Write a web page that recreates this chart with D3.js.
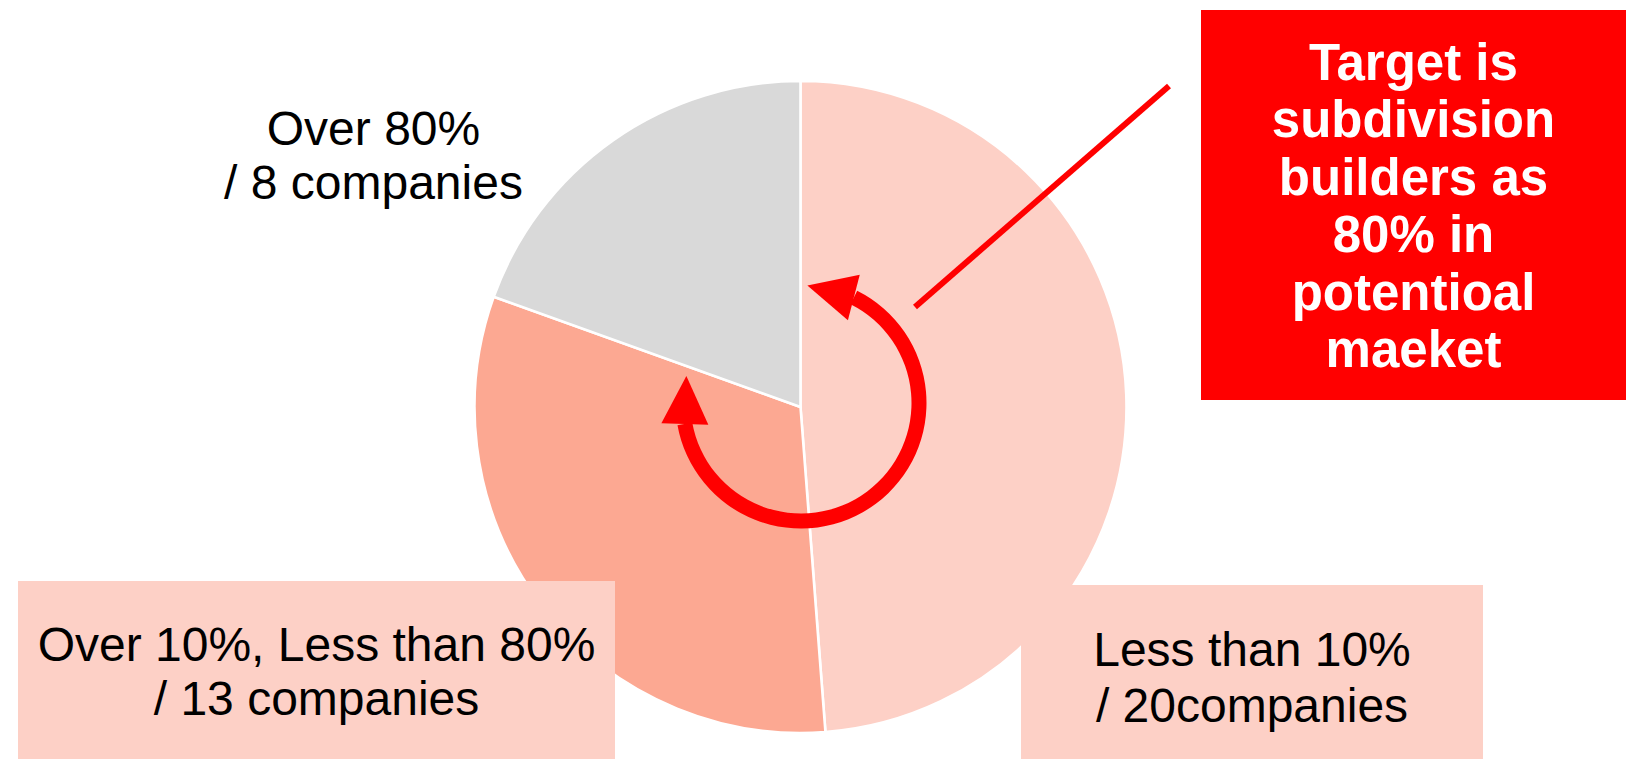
<!DOCTYPE html>
<html lang="en">
<head>
    <meta charset="UTF-8">
    <title>Subdivision builders share</title>
    <script src="https://cdnjs.cloudflare.com/ajax/libs/d3/7.8.5/d3.min.js"></script>
    <style>
        body { margin: 0; background: #fff; }
        svg { display: block; }
        .label { font-family: "Liberation Sans", Arial, sans-serif; font-size: 48px; fill: #000; }
        .callout { font-family: "Liberation Sans", Arial, sans-serif; font-size: 51px; font-weight: bold; fill: #fff; }
    </style>
</head>
<body>
    <div id="chart"></div>

    <script>
        // Chart data
        const categories = ["Less than 10%", "Over 10%, Less than 80%", "Over 80%"];
        const companies = [20, 13, 8];
        const labelLines = [
            ["Less than 10%", "/ 20companies"],
            ["Over 10%, Less than 80%", "/ 13 companies"],
            ["Over 80%", "/ 8 companies"]
        ];
        const sliceColors = ["#fdd0c6", "#fca892", "#d9d9d9"];
        const calloutLines = ["Target is", "subdivision", "builders as", "80% in", "potentioal", "maeket"];

        const width = 1626;
        const height = 759;

        // Pie geometry
        const cx = 800.5, cy = 407, radius = 326;

        // Label layout: box (optional), centre x, baselines
        const labelLayout = [
            { box: [1021, 585, 462, 190], x: 1252, y: [666, 722] },
            { box: [18, 581, 597, 190], x: 316.5, y: [661, 715] },
            { box: null, x: 373.5, y: [145, 199] }
        ];

        const svg = d3.select("#chart").append("svg")
            .attr("width", width)
            .attr("height", height);

        const pie = d3.pie().sort(null).value(d => d);
        const arc = d3.arc().innerRadius(0).outerRadius(radius);

        // Slices
        svg.append("g")
            .attr("transform", `translate(${cx},${cy})`)
            .selectAll("path")
            .data(pie(companies))
            .enter().append("path")
            .attr("d", arc)
            .attr("fill", (d, i) => sliceColors[i])
            .attr("stroke", "#fff")
            .attr("stroke-width", 2.6)
            .attr("stroke-linejoin", "round");

        // Label boxes and texts
        const labels = svg.append("g")
            .selectAll("g")
            .data(categories)
            .enter().append("g");

        labels.each(function(d, i) {
            const g = d3.select(this);
            const lay = labelLayout[i];
            if (lay.box) {
                g.append("rect")
                    .attr("x", lay.box[0]).attr("y", lay.box[1])
                    .attr("width", lay.box[2]).attr("height", lay.box[3])
                    .attr("fill", sliceColors[0]);
            }
            labelLines[i].forEach((line, j) => {
                g.append("text")
                    .attr("class", "label")
                    .attr("x", lay.x)
                    .attr("y", lay.y[j])
                    .attr("text-anchor", "middle")
                    .text(line);
            });
        });

        // Circular double arrow
        const ring = { cx: 801, cy: 403, r: 118, width: 15, start: 26.6, end: 259.8 };
        const toRad = a => a * Math.PI / 180;
        const ringArc = d3.arc()
            .innerRadius(ring.r - ring.width / 2)
            .outerRadius(ring.r + ring.width / 2)
            .startAngle(toRad(ring.start))
            .endAngle(toRad(ring.end));

        const arrowG = svg.append("g");
        arrowG.append("path")
            .attr("transform", `translate(${ring.cx},${ring.cy})`)
            .attr("d", ringArc())
            .attr("fill", "#ff0000");

        function arrowHead(angleDeg, dir) {
            // dir = +1 for clockwise travel, -1 for counterclockwise
            const a = toRad(angleDeg);
            const bx = ring.cx + ring.r * Math.sin(a);
            const by = ring.cy - ring.r * Math.cos(a);
            // tangent, turned a little toward the centre
            const tx = dir * Math.cos(a), ty = dir * Math.sin(a);
            const turn = toRad(12) * dir;
            const rx = tx * Math.cos(turn) - ty * Math.sin(turn);
            const ry = tx * Math.sin(turn) + ty * Math.cos(turn);
            const len = 48, half = 23.5;
            const nx = -ry, ny = rx;
            const pts = [
                [bx + rx * len, by + ry * len],
                [bx + nx * half, by + ny * half],
                [bx - nx * half, by - ny * half]
            ];
            arrowG.append("path")
                .attr("d", d3.line()(pts) + "Z")
                .attr("fill", "#ff0000");
        }
        arrowHead(ring.start, -1);
        arrowHead(ring.end, 1);

        // Pointer line to callout
        svg.append("line")
            .attr("x1", 1169).attr("y1", 86)
            .attr("x2", 915).attr("y2", 307)
            .attr("stroke", "#ff0000")
            .attr("stroke-width", 6);

        // Callout box
        svg.append("rect")
            .attr("x", 1201).attr("y", 10)
            .attr("width", 430).attr("height", 390)
            .attr("fill", "#ff0000");

        svg.append("g")
            .selectAll("text")
            .data(calloutLines)
            .enter().append("text")
            .attr("class", "callout")
            .attr("x", 1413.5)
            .attr("y", (d, i) => 80 + i * 57.4)
            .attr("text-anchor", "middle")
            .text(d => d);
    </script>
</body>
</html>
